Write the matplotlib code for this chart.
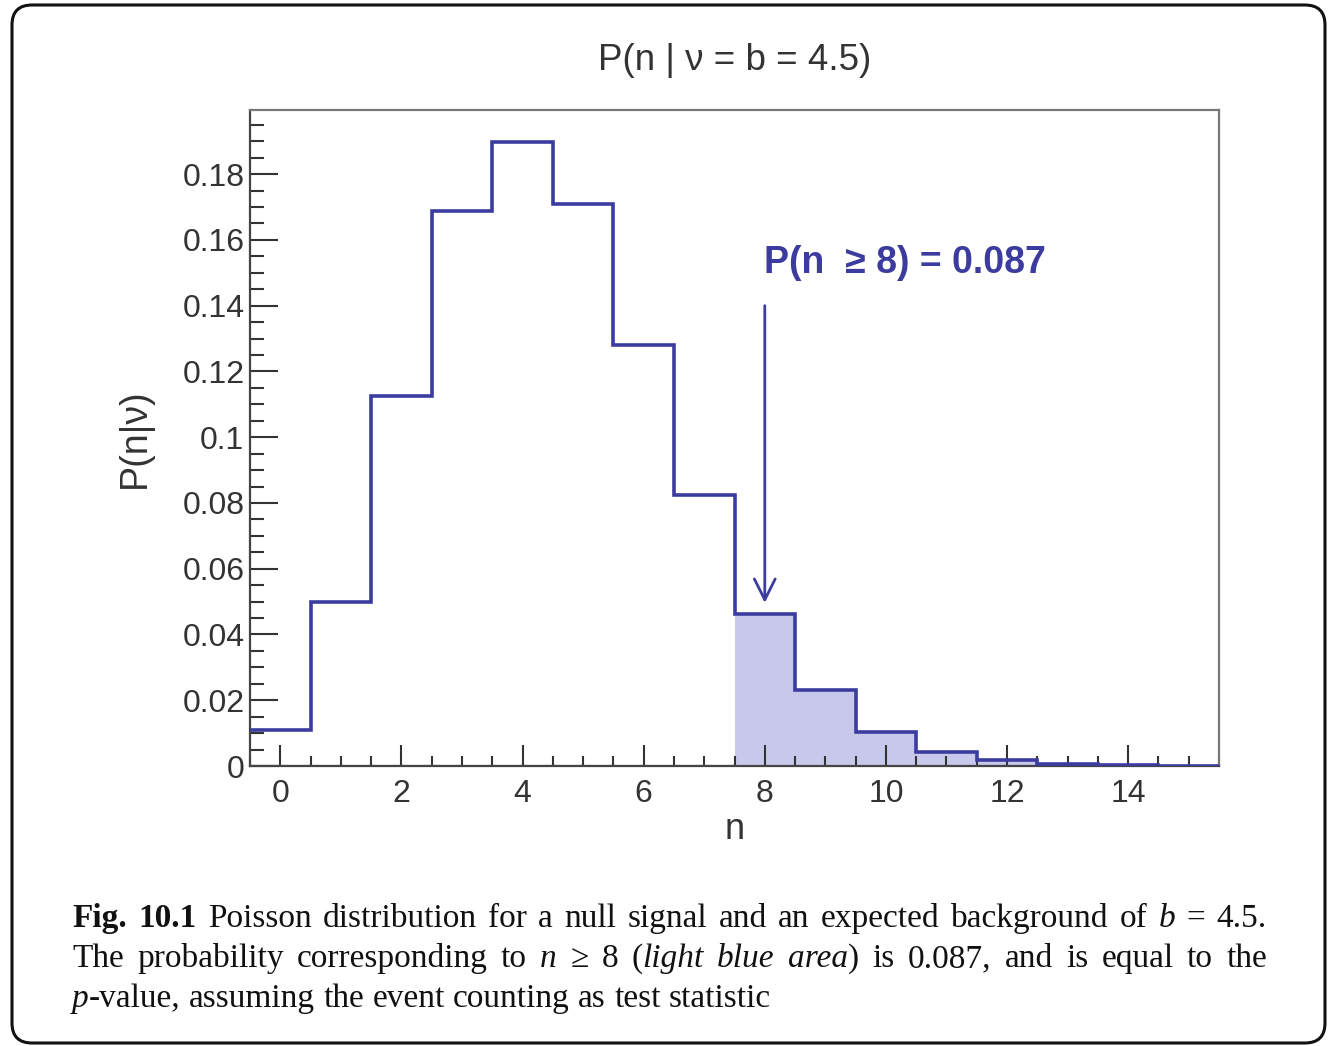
import re
import matplotlib
matplotlib.use("Agg")
import matplotlib.pyplot as plt
import numpy as np
from matplotlib.patches import FancyBboxPatch
from matplotlib.ticker import MultipleLocator, FuncFormatter

# podaci procitani sa slike (Poisson, b = 4.5)
n_vals = np.arange(16)
p_vals = [0.0111, 0.0500, 0.1125, 0.1687, 0.1898, 0.1708, 0.1281, 0.0824,
          0.0463, 0.0232, 0.0104, 0.0043, 0.0017, 0.0006, 0.0002, 0.0001]
n_cut = 8
p_tail = 0.087
b_val = 4.5
y_ticks = [0, 0.02, 0.04, 0.06, 0.08, 0.1, 0.12, 0.14, 0.16, 0.18]
x_ticks = [0, 2, 4, 6, 8, 10, 12, 14]

caption_lines = [
    "**Fig.** **10.1** Poisson distribution for a null signal and an expected background of *b* = 4.5.",
    "The probability corresponding to *n* ≥ 8 (*light* *blue* *area*) is 0.087, and is equal to the",
    "*p*-value, assuming the event counting as test statistic",
]

LINE = "#3c3ca0"
FILL = "#c8c8ec"
TXT = "#333333"
SANS = ["Liberation Sans", "DejaVu Sans"]
SERIF = ["Liberation Serif", "DejaVu Serif"]

plt.rcParams["font.family"] = SANS

W, H = 1329, 1046
fig = plt.figure(figsize=(W / 100, H / 100), dpi=100)
ax = fig.add_axes([250 / W, 1 - 766 / H, 969 / W, 656 / H])

edges = np.append(n_vals - 0.5, n_vals[-1] + 0.5)
p = np.array(p_vals)
ax.stairs(p[n_cut:], edges[n_cut:], fill=True, color=FILL, zorder=1)
ax.hlines(0, edges[0], edges[n_cut], color=FILL, lw=2.5, zorder=1)
ax.stairs(p, edges, baseline=None, color=LINE, lw=2.6, zorder=3)

ax.set_xlim(edges[0], edges[-1])
ax.set_ylim(0, 0.1995)

ax.set_xticks(x_ticks)
ax.set_yticks(y_ticks)
ax.xaxis.set_minor_locator(MultipleLocator(0.5))
ax.yaxis.set_minor_locator(MultipleLocator(0.005))
fmt = FuncFormatter(lambda v, _: f"{v:g}")
ax.xaxis.set_major_formatter(fmt)
ax.yaxis.set_major_formatter(fmt)
ax.tick_params(axis="both", which="both", direction="in", colors=TXT, width=1.5,
               labelsize=23, labelcolor=TXT)
ax.tick_params(axis="y", which="major", length=20, pad=4)
ax.tick_params(axis="y", which="minor", length=10)
ax.tick_params(axis="x", which="major", length=15, pad=9)
ax.tick_params(axis="x", which="minor", length=7)
for name, sp in ax.spines.items():
    sp.set_color("#777777" if name in ("top", "right") else "#444444")
    sp.set_linewidth(1.6)

ax.set_title(f"P(n | ν = b = {b_val})", fontsize=26.5, color=TXT, pad=29)
ax.set_xlabel("n", fontsize=26, color=TXT)
ax.xaxis.set_label_coords(0.5, -0.07)
ax.set_ylabel("P(n|ν)", fontsize=27, color=TXT)
ax.yaxis.set_label_coords(-0.10, 0.5)

ax.annotate("", xy=(n_cut, 0.0496), xytext=(n_cut, 0.140),
            arrowprops=dict(arrowstyle="->,head_length=0.6,head_width=0.3",
                            color=LINE, lw=2, mutation_scale=25, shrinkA=0, shrinkB=0))
ax.text(n_cut - 0.02, 0.153, f"P(n  ≥ {n_cut}) = {p_tail}", color=LINE, fontsize=27,
        fontweight="bold", ha="left", va="center")

# okvir oko cele slike
frame = FancyBboxPatch((0.12, 0.03), 13.13, 10.38, boxstyle="round,pad=0,rounding_size=0.2",
                       transform=fig.dpi_scale_trans, fill=False, ec="#111111", lw=2.2)
fig.patches.append(frame)

# caption, poravnat (justify) rec po rec
renderer = fig.canvas.get_renderer()
cap_size = 24
x0, x1 = 72, 1267
baselines = [927, 967, 1007]


def parse_word(word):
    segs = []
    for part in re.split(r"(\*\*.+?\*\*|\*.+?\*)", word):
        if not part:
            continue
        if part.startswith("**"):
            segs.append((part[2:-2], "bold"))
        elif part.startswith("*"):
            segs.append((part[1:-1], "italic"))
        else:
            segs.append((part, "normal"))
    return segs


def make_text(s, style, y):
    return fig.text(0, y, s, fontsize=cap_size, family=SERIF, color="#111111",
                    fontweight="bold" if style == "bold" else "normal",
                    fontstyle="italic" if style == "italic" else "normal",
                    va="baseline", ha="left")


probe1 = make_text("a a", "normal", 0)
probe2 = make_text("aa", "normal", 0)
space_w = probe1.get_window_extent(renderer).width - probe2.get_window_extent(renderer).width
probe1.remove()
probe2.remove()

for i, line in enumerate(caption_lines):
    y = 1 - baselines[i] / H
    words = []
    for w in line.split(" "):
        segs = []
        for s, st in parse_word(w):
            t = make_text(s, st, y)
            segs.append((t, t.get_window_extent(renderer).width))
        words.append(segs)
    widths = [sum(e for _, e in segs) for segs in words]
    if i < len(caption_lines) - 1 and len(words) > 1:
        gap = (x1 - x0 - sum(widths)) / (len(words) - 1)
        gap = max(gap, space_w * 0.6)
    else:
        gap = space_w
    x = x0
    for segs, ww in zip(words, widths):
        xs = x
        for t, e in segs:
            t.set_x(xs / W)
            xs += e
        x += ww + gap

fig.savefig("out.png", dpi=100)
